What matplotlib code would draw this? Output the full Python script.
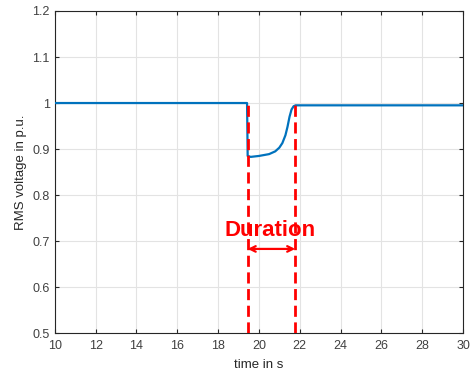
import matplotlib.pyplot as plt

plt.rcParams['font.family'] = ['Liberation Sans', 'DejaVu Sans']

# RMS voltage trace
time_s = [10, 19.42, 19.45, 19.6, 20.0, 20.5, 20.8, 21.0, 21.15, 21.3, 21.4, 21.5, 21.6, 21.7, 21.8, 22.0, 30]
voltage_pu = [1.0, 1.0, 0.885, 0.883, 0.885, 0.889, 0.895, 0.903, 0.913, 0.93, 0.948, 0.97, 0.986, 0.993, 0.995, 0.995, 0.995]

# start / end of the dip
dip_start = 19.45
dip_end = 21.78
dip_start_v = 1.0
dip_end_v = 0.995
arrow_v = 0.683
label_text = "Duration"

fig = plt.figure(figsize=(4.72, 3.79), dpi=100)
ax = fig.add_axes([0.116, 0.121, 0.865, 0.850])

ax.plot(time_s, voltage_pu, color=(0, 0.447, 0.741), linewidth=1.6, zorder=3)

# dashed markers for dip start and end
ax.plot([dip_start, dip_start], [0.5, dip_start_v], color='red', linestyle=(0, (4, 2)), linewidth=2, zorder=4)
ax.plot([dip_end, dip_end], [0.5, dip_end_v], color='red', linestyle=(0, (4, 2)), linewidth=2, zorder=4)

ax.annotate('', xy=(dip_start, arrow_v), xytext=(dip_end, arrow_v),
            arrowprops=dict(arrowstyle='<->', color='red', lw=1.6, shrinkA=0, shrinkB=0))
ax.text((dip_start + dip_end) / 2 - 0.05, 0.724, label_text, color='red', fontsize=16,
        fontweight='bold', ha='center', va='center')

ax.set_xlim(10, 30)
ax.set_ylim(0.5, 1.2)
ax.set_xticks(range(10, 31, 2))
ax.set_yticks([0.5, 0.6, 0.7, 0.8, 0.9, 1.0, 1.1, 1.2])
ax.set_yticklabels(['0.5', '0.6', '0.7', '0.8', '0.9', '1', '1.1', '1.2'])
ax.grid(True, color='#e3e3e3', linewidth=0.8)
ax.set_axisbelow(True)

for s in ax.spines.values():
    s.set_color('#262626')
    s.set_linewidth(0.8)
ax.tick_params(direction='in', colors='#262626', labelcolor='#404040', labelsize=9, length=3)
ax.tick_params(axis='x', pad=5)
ax.tick_params(top=True, right=True)

ax.set_xlabel('time in s', fontsize=9.5, color='#262626', labelpad=5)
ax.set_ylabel('RMS voltage in p.u.', fontsize=9.5, color='#262626', labelpad=4)

fig.savefig('out.png', dpi=100)
